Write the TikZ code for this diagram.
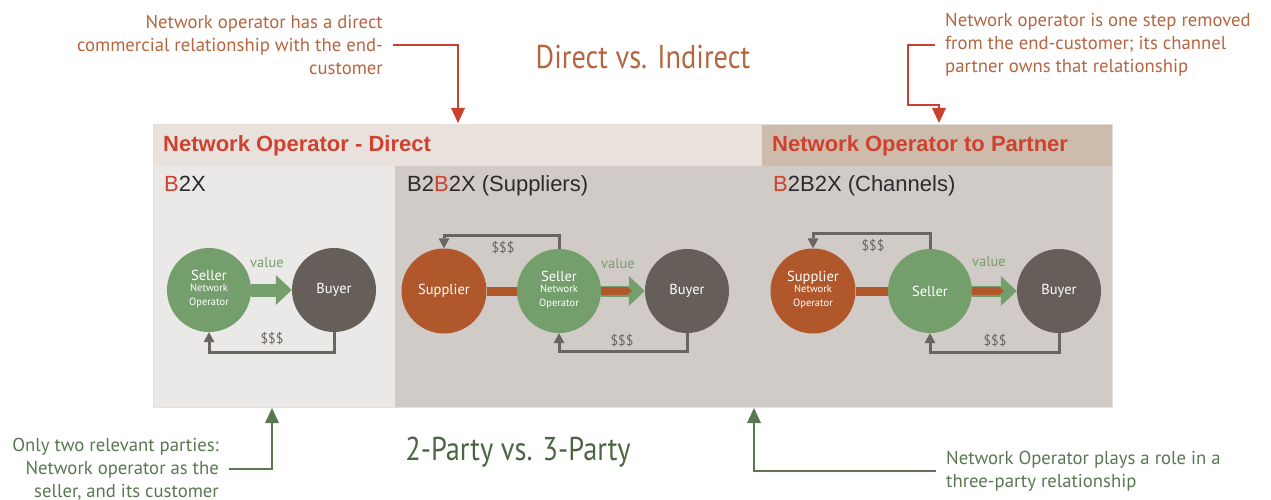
\documentclass[tikz,border=0pt]{standalone}
\usepackage{fontspec}
\setmainfont{PT Sans}
\newfontfamily\arialfont{Liberation Sans}
\newfontfamily\narrowfont[FakeStretch=0.86]{PT Sans}
\usetikzlibrary{arrows.meta}

\definecolor{hdrLight}{HTML}{E9E2DC}
\definecolor{hdrTan}{HTML}{CDBBAB}
\definecolor{bodyLight}{HTML}{EBE9E7}
\definecolor{bodyDark}{HTML}{D1CBC7}
\definecolor{sellerGreen}{HTML}{749E6C}
\definecolor{buyerGrey}{HTML}{665F59}
\definecolor{supplierOrange}{HTML}{B0572B}
\definecolor{loopGrey}{HTML}{6B6560}
\definecolor{titleRed}{HTML}{CF4230}
\definecolor{labelDark}{HTML}{2B2B2B}
\definecolor{noteBrown}{HTML}{B5653F}
\definecolor{noteRed}{HTML}{C9402F}
\definecolor{noteGreen}{HTML}{5A7752}
\definecolor{headGreen}{HTML}{4C6644}

% role name with the operator tag beneath it
\newcommand{\rolewithop}[1]{\begin{tabular}{@{}c@{}}#1\\[-4pt]
  \fontsize{10.5}{11.5}\selectfont Network\\[-1.5pt]\fontsize{10.5}{11.5}\selectfont Operator\end{tabular}}

\begin{document}
\begin{tikzpicture}[x=1pt,y=-1pt,
  party/.style={circle, inner sep=0pt, minimum size=#1, text=white,
    font={\fontsize{14.5}{15}\selectfont}},
  seller/.style={party=84pt, fill=sellerGreen},
  buyer/.style={party=84pt, fill=buyerGrey},
  supplier/.style={party=85pt, fill=supplierOrange},
  hdr/.style={anchor=base west, inner sep=0pt, text=titleRed, font={\arialfont\bfseries\fontsize{22}{24}\selectfont}},
  sect/.style={anchor=base west, inner sep=0pt, text=labelDark, font={\arialfont\fontsize{22}{24}\selectfont}},
  loopline/.style={draw=loopGrey, line width=3pt, -{Triangle[length=10pt,width=11pt,line width=0pt]}},
  money/.style={text=loopGrey, font={\fontsize{14}{14}\selectfont}},
  valuelbl/.style={text=sellerGreen, font={\fontsize{14.5}{14}\selectfont}},
  valuearrow/.style={draw=sellerGreen, line width=#1, -{Triangle[length=16pt,width=30pt,line width=0pt]}},
  orangebar/.style={draw=supplierOrange, line width=8pt, -{Triangle[length=5pt,width=8pt,line width=0pt]}},
  link/.style={draw=supplierOrange, line width=9pt},
  note/.style={inner xsep=10pt, inner ysep=0pt, font={\fontsize{18.7}{23}\selectfont}},
  title/.style={inner sep=0pt, font={\narrowfont\fontsize{33}{36}\selectfont}},
  redpointer/.style={draw=noteRed, line width=1.6pt, -{Triangle[length=15pt,width=14pt,line width=0pt]}},
  greenpointer/.style={draw=noteGreen, line width=1.6pt, -{Triangle[length=15pt,width=14pt,line width=0pt]}}
]
\useasboundingbox (0,0) rectangle (1271,500);

% panel backgrounds
\fill[hdrLight] (153,124) rectangle (762,166);
\fill[hdrTan] (762,124) rectangle (1112,166);
\fill[bodyLight] (153,166) rectangle (395,407);
\fill[bodyDark] (395,166) rectangle (1112,407);
\draw[white!88!black, line width=0.6pt] (153,124) rectangle (1112,407);

% header and section labels
\node[hdr] (hdrDirect) at (163,151) {Network Operator - Direct};
\node[hdr] (hdrPartner) at (772,151) {Network Operator to Partner};
\node[sect] (secB2X) at (164,191) {\textcolor{titleRed}{B}2X};
\node[sect] (secSup) at (407,191) {B2\textcolor{titleRed}{B}2X (Suppliers)};
\node[sect] (secCh) at (773,191) {\textcolor{titleRed}{B}2B2X (Channels)};

% B2X: seller and buyer
\node[seller] (sellerA) at (209,290) {\rolewithop{Seller}};
\node[buyer] (buyerA) at (334,290) {Buyer};
\draw[valuearrow=13pt] (sellerA.east) -- (buyerA.west);
\node[valuelbl] (valA) at (267,263) {value};
\draw[loopline] (buyerA.south) -- ++(0,20) -| (sellerA.south);
\node[money] (payA) at (272,339) {\$\$\$};

% B2B2X suppliers
\node[supplier] (supB) at (444,291) {Supplier};
\node[seller] (sellerB) at (559,291) {\rolewithop{Seller}};
\node[buyer] (buyerB) at (687,291) {Buyer};
\draw[link] (supB.east) -- (sellerB.west);
\draw[valuearrow=11pt] (sellerB.east) -- (buyerB.west);
\coordinate (barEndB) at (632,291);
\draw[orangebar] (sellerB.east) -- (barEndB);
\node[valuelbl] (valB) at (618,264) {value};
\draw[loopline] (sellerB.north) -- ++(0,-13) -| (supB.north);
\node[money] (payB1) at (503,248) {\$\$\$};
\draw[loopline] (buyerB.south) -- ++(0,18) -| (sellerB.south);
\node[money] (payB2) at (622,341) {\$\$\$};

% B2B2X channels
\node[supplier] (supC) at (813,291) {\rolewithop{Supplier}};
\node[seller] (sellerC) at (930,291) {Seller};
\node[buyer] (buyerC) at (1059,291) {Buyer};
\draw[link] (supC.east) -- (sellerC.west);
\draw[valuearrow=11pt] (sellerC.east) -- (buyerC.west);
\coordinate (barEndC) at (1004,291);
\draw[orangebar] (sellerC.east) -- (barEndC);
\node[valuelbl] (valC) at (989,262) {value};
\draw[loopline] (sellerC.north) -- ++(0,-15) -| (supC.north);
\node[money] (payC1) at (873,246) {\$\$\$};
\draw[loopline] (buyerC.south) -- ++(0,19) -| (sellerC.south);
\node[money] (payC2) at (995,341) {\$\$\$};

% titles
\node[title, text=noteBrown] (titleDI) at (643,57) {Direct vs. Indirect};
\node[title, text=headGreen] (titleParty) at (518,452) {2-Party vs. 3-Party};

% callouts
\node[note, text=noteBrown, align=right, anchor=east] (noteTL) at (393,45)
  {Network operator has a direct\\commercial relationship with the end-\\customer};
\node[note, text=noteBrown, align=left, anchor=west] (noteTR) at (935,45)
  {Network operator is one step removed\\from the end-customer; its channel\\partner owns that relationship};
\node[note, text=noteGreen, align=right, anchor=east] (noteBL) at (229,469)
  {Only two relevant parties:\\Network operator as the\\seller, and its customer};
\node[note, text=noteGreen, align=left, anchor=west] (noteBR) at (936,471)
  {Network Operator plays a role in a\\three-party relationship};

\coordinate (tipTL) at (458,123);
\coordinate (bendTR) at (908,105);
\coordinate (tipTR) at (939,123);
\coordinate (tipBL) at (272,408);
\coordinate (tipBR) at (754,408);
\draw[redpointer] (noteTL.east) -| (tipTL);
\draw[redpointer] (noteTR.west) -| (bendTR) -| (tipTR);
\draw[greenpointer] (noteBL.east) -| (tipBL);
\draw[greenpointer] (noteBR.west) -| (tipBR);
\end{tikzpicture}
\end{document}
